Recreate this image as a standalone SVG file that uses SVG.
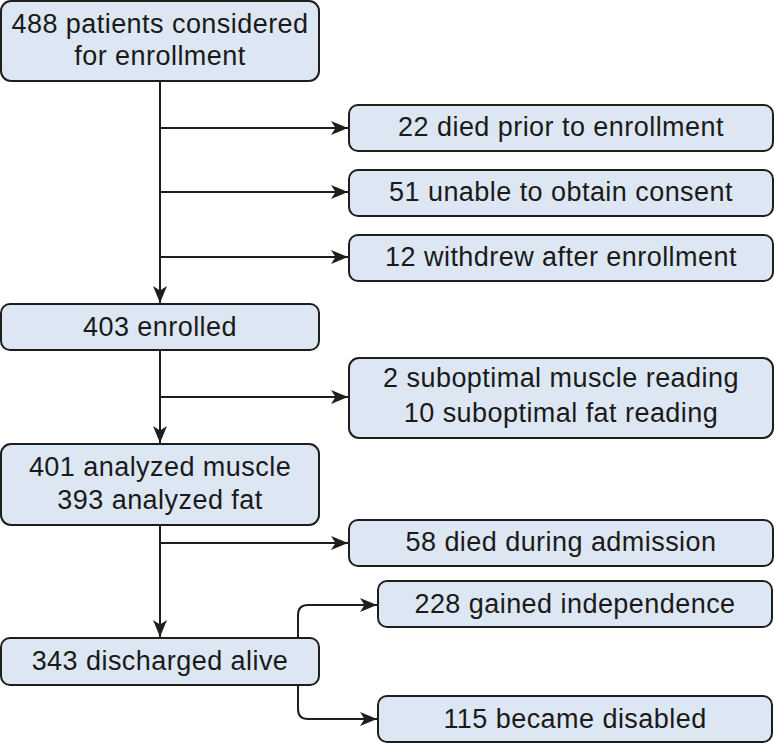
<svg xmlns="http://www.w3.org/2000/svg" width="774" height="743" viewBox="0 0 774 743">
<style>
.box{fill:#dde7f3;stroke:#1e1e1e;stroke-width:2}
.t{font-family:"Liberation Sans",Arial,sans-serif;font-size:27px;letter-spacing:0.45px;fill:#1a1a1a;text-anchor:middle}
.c{fill:none;stroke:#1e1e1e;stroke-width:2;marker-end:url(#ah)}
</style>
<defs>
<marker id="ah" markerUnits="userSpaceOnUse" markerWidth="18" markerHeight="16" refX="17" refY="8" orient="auto">
<path d="M0,1 L17,8 L0,15 L4.5,8 Z" fill="#1e1e1e"/>
</marker>
</defs>
<rect width="774" height="743" fill="#ffffff"/>
<g id="connectors">
<path class="c" d="M160,81 V303"/>
<path class="c" d="M160,128 H348"/>
<path class="c" d="M160,192 H348"/>
<path class="c" d="M160,257 H348"/>
<path class="c" d="M160,350 V443"/>
<path class="c" d="M160,397 H348"/>
<path class="c" d="M160,525 V637"/>
<path class="c" d="M160,543 H348"/>
<path class="c" d="M298,650 V615 Q298,605 308,605 H377"/>
<path class="c" d="M298,670 V709 Q298,719 308,719 H377"/>
</g>
<g id="n1"><rect class="box" x="1" y="1" width="318" height="80" rx="10"/><text class="t" x="160" y="33">488 patients considered</text><text class="t" x="160" y="65">for enrollment</text></g>
<g id="n2"><rect class="box" x="349" y="105" width="424" height="46" rx="9"/><text class="t" x="561" y="136">22 died prior to enrollment</text></g>
<g id="n3"><rect class="box" x="349" y="170" width="424" height="46" rx="9"/><text class="t" x="561" y="201">51 unable to obtain consent</text></g>
<g id="n4"><rect class="box" x="349" y="235" width="424" height="46" rx="9"/><text class="t" x="561" y="266">12 withdrew after enrollment</text></g>
<g id="n5"><rect class="box" x="1" y="304" width="318" height="46" rx="9"/><text class="t" x="160" y="336">403 enrolled</text></g>
<g id="n6"><rect class="box" x="349" y="358" width="424" height="80" rx="10"/><text class="t" x="561" y="387">2 suboptimal muscle reading</text><text class="t" x="561" y="422">10 suboptimal fat reading</text></g>
<g id="n7"><rect class="box" x="1" y="444" width="318" height="81" rx="10"/><text class="t" x="160" y="476">401 analyzed muscle</text><text class="t" x="160" y="509">393 analyzed fat</text></g>
<g id="n8"><rect class="box" x="349" y="520" width="424" height="46" rx="9"/><text class="t" x="561" y="551">58 died during admission</text></g>
<g id="n9"><rect class="box" x="1" y="638" width="318" height="47" rx="9"/><text class="t" x="160" y="670">343 discharged alive</text></g>
<g id="n10"><rect class="box" x="378" y="581" width="394" height="46" rx="9"/><text class="t" x="575" y="613">228 gained independence</text></g>
<g id="n11"><rect class="box" x="378" y="696" width="394" height="46" rx="9"/><text class="t" x="575" y="728">115 became disabled</text></g>
</svg>
